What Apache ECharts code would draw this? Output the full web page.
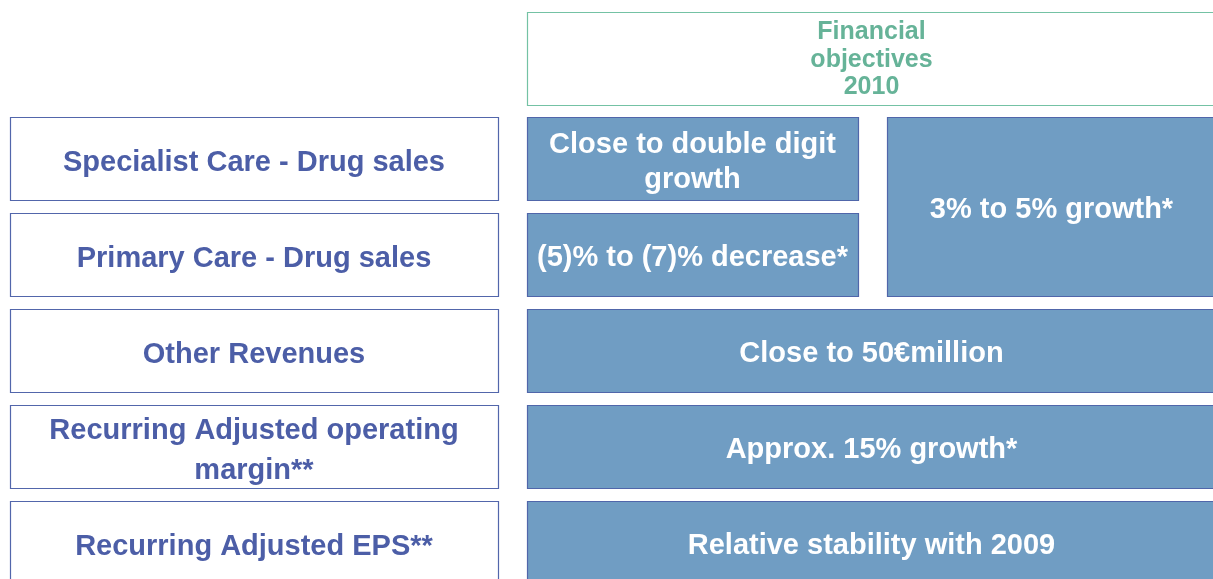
<!DOCTYPE html>
<html>
<head>
<meta charset="utf-8">
<script src="https://cdn.jsdelivr.net/npm/echarts@6/dist/echarts.min.js"></script>
<style>
  html, body { margin: 0; padding: 0; background: #fff; }
  #main { width: 1213px; height: 579px; }
</style>
</head>
<body>
<div id="main"></div>
<script>
// table content
const headerTitle = 'Financial\nobjectives\n2010';
const rowLabels = [
  'Specialist Care - Drug sales',
  'Primary Care - Drug sales',
  'Other Revenues',
  'Recurring Adjusted operating\nmargin**',
  'Recurring Adjusted EPS**'
];
const objectiveTexts = [
  'Close to double digit\ngrowth',
  '(5)% to (7)% decrease*',
  '3% to 5% growth*',
  'Close to 50€million',
  'Approx. 15% growth*',
  'Relative stability with 2009'
];
// row span [from, to] (1..5) and column span [from, to] (1 = left objective col, 2 = right)
const objectiveRows = [[1, 1], [2, 2], [1, 2], [3, 3], [4, 4], [5, 5]];
const objectiveCols = [[1, 1], [1, 1], [2, 2], [1, 2], [1, 2], [1, 2]];

// layout (pixels)
const colLeft = [10, 527, 887];
const colRight = [498, 858, 1216];
const rowTop = [12];
const rowBottom = [105];
for (let i = 0; i < rowLabels.length; i++) {
  rowTop.push(117 + i * 96);
  rowBottom.push(117 + i * 96 + 83);
}

const styles = {
  header: { fill: '#fff', stroke: '#74c2a4', color: '#66b398', size: 25, lh: 27.5, dy: 1.5 },
  label: { fill: '#fff', stroke: '#5266ab', color: '#4c5ea7', size: 29, lh: 40, dy: 4 },
  objective: { fill: '#709dc3', stroke: '#5066aa', color: '#fff', size: 29, lh: 35, dy: 3.5 }
};

const cells = [];
function addCell(kind, text, c0, c1, r0, r1) {
  cells.push({ kind, text, value: [colLeft[c0], colRight[c1], rowTop[r0], rowBottom[r1]] });
}
addCell('header', headerTitle, 1, 2, 0, 0);
rowLabels.forEach((t, i) => addCell('label', t, 0, 0, i + 1, i + 1));
objectiveTexts.forEach((t, i) =>
  addCell('objective', t, objectiveCols[i][0], objectiveCols[i][1], objectiveRows[i][0], objectiveRows[i][1]));

const chart = echarts.init(document.getElementById('main'));
chart.setOption({
  animation: false,
  grid: { left: 0, right: 0, top: 0, bottom: 0 },
  xAxis: { type: 'value', min: 0, max: 1213, show: false },
  yAxis: { type: 'value', min: 0, max: 579, inverse: true, show: false },
  series: [{
    type: 'custom',
    clip: false,
    data: cells.map(c => c.value),
    renderItem: function (params, api) {
      const c = cells[params.dataIndex];
      const s = styles[c.kind];
      const p0 = api.coord([api.value(0), api.value(2)]);
      const p1 = api.coord([api.value(1), api.value(3)]);
      return {
        type: 'group',
        children: [{
          type: 'rect',
          shape: { x: Math.round(p0[0]) + 0.5, y: Math.round(p0[1]) + 0.5,
                   width: p1[0] - p0[0], height: p1[1] - p0[1] },
          style: { fill: s.fill, stroke: s.stroke, lineWidth: 1.2 }
        }, {
          type: 'text',
          style: {
            text: c.text,
            x: (p0[0] + p1[0]) / 2,
            y: (p0[1] + p1[1]) / 2 + s.dy,
            align: 'center',
            verticalAlign: 'middle',
            fill: s.color,
            fontSize: s.size,
            lineHeight: s.lh,
            fontWeight: 'bold',
            fontFamily: 'Liberation Sans, Arial, sans-serif'
          }
        }]
      };
    }
  }]
});
</script>
</body>
</html>
